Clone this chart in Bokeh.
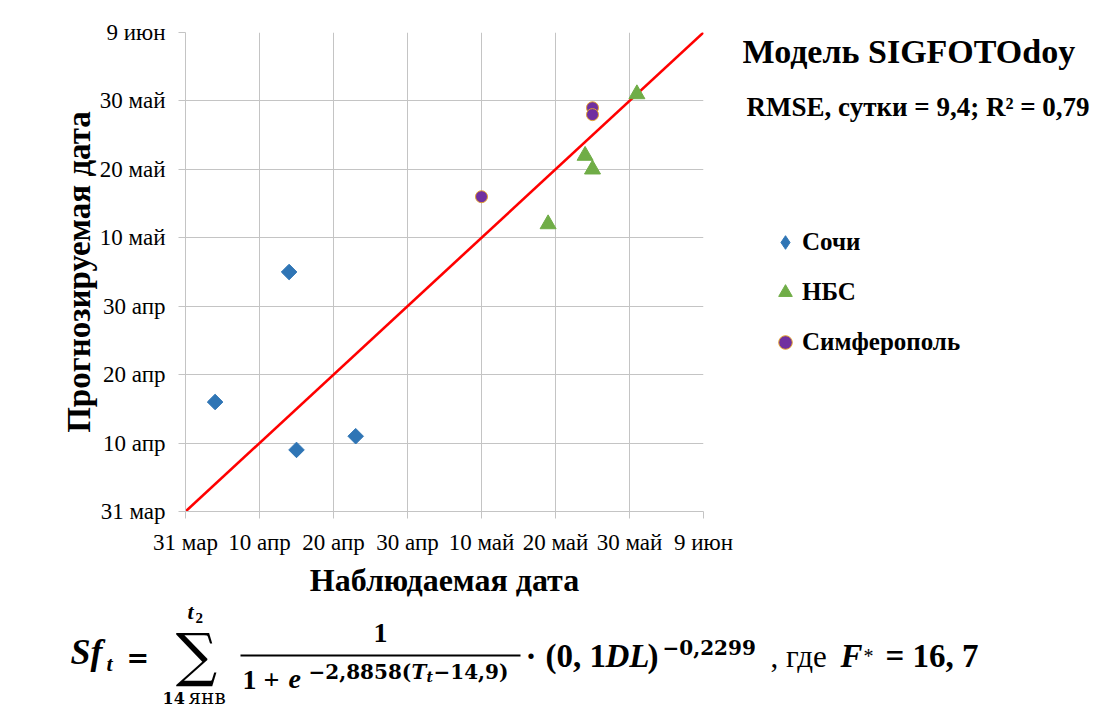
from bokeh.plotting import figure
from bokeh.layouts import column, row
from bokeh.models import FixedTicker, Label, Legend, LegendItem, BoxAnnotation
from bokeh.embed import file_html
from bokeh.resources import INLINE

# ---------------- data (days counted from 31 March) ----------------
tick_days = [0, 10, 20, 30, 40, 50, 60, 70]
tick_labels = ["31 мар", "10 апр", "20 апр", "30 апр", "10 май", "20 май", "30 май", "9 июн"]

sochi_obs = [4, 14, 15, 23]
sochi_pred = [16, 35, 9, 11]

nbs_obs = [49, 54, 55, 61]
nbs_pred = [42, 52, 50, 61]

simf_obs = [40, 55, 55]
simf_pred = [46, 59, 58]

line_x = [0, 70]
line_y = [0, 70]

series_names = ["Сочи", "НБС", "Симферополь"]
title_text = "Модель SIGFOTOdoy"
stats_text = "RMSE, сутки = 9,4; R² = 0,79"

# ---------------- layout (page pixel coordinates) ----------------
TOTAL_W, TOTAL_H = 1091, 712
W1, H1 = 742, 600                   # main chart figure
FL, FT, FR, FB = 185, 32, 703, 519  # chart frame edges
RIGHT_FB = 513                      # frame bottom of the right text panel
BASE_SHIFT = 0.3                    # baseline correction, in em

SERIF = "Liberation Serif"
DSERIF = "DejaVu Serif"
BLUE, GREEN, PURPLE, GOLD = "#2F75B5", "#70AD47", "#7030A0", "#E3A22D"
GRID = "#c4c4c4"

p = figure(width=W1, height=H1, output_backend="svg", toolbar_location=None,
           x_range=(tick_days[0], tick_days[-1]), y_range=(tick_days[0], tick_days[-1]),
           min_border_left=FL, min_border_right=W1 - FR,
           min_border_top=FT, min_border_bottom=H1 - FB)
p.outline_line_color = None
p.background_fill_color = "white"
p.border_fill_color = "white"

for ax in (p.xaxis[0], p.yaxis[0]):
    ax.ticker = FixedTicker(ticks=tick_days)
    ax.major_label_overrides = {d: l for d, l in zip(tick_days, tick_labels)}
    ax.major_label_text_font = SERIF
    ax.major_label_text_font_size = "23px"
    ax.major_label_text_color = "black"
    ax.axis_line_color = GRID
    ax.major_tick_line_color = GRID
    ax.major_tick_out = 7
    ax.major_tick_in = 0
    ax.minor_tick_line_color = None
    ax.axis_label_text_font = SERIF
    ax.axis_label_text_font_style = "bold"
    ax.axis_label_text_color = "black"

p.xaxis.major_label_standoff = 11
p.yaxis.major_label_standoff = 13
p.xaxis.axis_label = "Наблюдаемая дата"
p.xaxis.axis_label_text_font_size = "32px"
p.xaxis.axis_label_standoff = 4
p.yaxis.axis_label = "Прогнозируемая дата"
p.yaxis.axis_label_text_font_size = "33px"
p.yaxis.axis_label_standoff = 0

p.grid.grid_line_color = GRID
p.grid.grid_line_width = 1

p.line(line_x, line_y, line_color="#FF0000", line_width=2.6)

p.scatter(sochi_obs, sochi_pred, marker="square", size=11, angle=0.785398,
          fill_color=BLUE, line_color=BLUE)
p.scatter(nbs_obs, nbs_pred, marker="triangle", size=16,
          fill_color=GREEN, line_color=GREEN)
p.scatter(simf_obs, simf_pred, marker="circle", size=12,
          fill_color=PURPLE, line_color=GOLD, line_width=1)


def text_fig(x0, x1, y0, y1, top=0, bottom=0):
    f = figure(width=x1 - x0, height=y1 - y0, output_backend="svg", toolbar_location=None,
               x_range=(x0, x1), y_range=(y1 - bottom, y0 + top),
               x_axis_location=None, y_axis_location=None,
               min_border_left=0, min_border_right=0,
               min_border_top=top, min_border_bottom=bottom)
    f.grid.visible = False
    f.outline_line_color = None
    f.background_fill_color = "white"
    f.border_fill_color = "white"
    return f


def txt(f, s, px, py, size, style="bold", align="left", baseline="alphabetic", font=SERIF):
    if baseline == "alphabetic":
        py = py - BASE_SHIFT * size
    f.add_layout(Label(x=px, y=py, text=s, text_font=font, text_font_size=f"{size}px",
                       text_font_style=style, text_align=align, text_baseline=baseline,
                       text_color="black"))


def stxt(f, s, px, py, size, style="bold", font=SERIF):
    # screen units, measured from the panel frame's bottom-left corner
    py = py - BASE_SHIFT * size
    f.add_layout(Label(x=px - W1, y=RIGHT_FB - py, x_units="screen", y_units="screen",
                       text=s, text_font=font, text_font_size=f"{size}px",
                       text_font_style=style, text_align="left", text_baseline="alphabetic",
                       text_color="black"))


# ---------------- right panel: title, stats, legend ----------------
pr = text_fig(W1, TOTAL_W, 0, H1, top=FT, bottom=H1 - FB)
stxt(pr, title_text, 742, 63, 34)
stxt(pr, stats_text, 746, 117, 27)

# legend keys: the series are re-plotted here; their points fall outside this
# panel's ranges, so only the legend keys are visible
lr1 = pr.scatter(sochi_obs, sochi_pred, marker="diamond", size=14,
                 fill_color=BLUE, line_color=BLUE)
lr2 = pr.scatter(nbs_obs, nbs_pred, marker="triangle", size=14,
                 fill_color=GREEN, line_color=GREEN)
lr3 = pr.scatter(simf_obs, simf_pred, marker="circle", size=12,
                 fill_color=PURPLE, line_color=GOLD)
legend = Legend(items=[LegendItem(label=series_names[0], renderers=[lr1]),
                       LegendItem(label=series_names[1], renderers=[lr2]),
                       LegendItem(label=series_names[2], renderers=[lr3])],
                location=(768 - W1, RIGHT_FB - 361),
                glyph_width=34, glyph_height=34, label_height=34, spacing=16,
                label_standoff=0, padding=0, margin=0,
                border_line_color=None, background_fill_alpha=0,
                label_text_font=SERIF, label_text_font_size="25px",
                label_text_font_style="bold", label_text_color="black")
pr.add_layout(legend)

# ---------------- bottom panel: formula ----------------
pb = text_fig(0, TOTAL_W, H1, TOTAL_H)
B = 665
txt(pb, "Sf", 70, 662, 36, "bold italic")
txt(pb, "t", 106, 670, 22, "bold italic")
txt(pb, "=", 126, B, 27, "bold", font=DSERIF)
txt(pb, "∑", 196, 654, 58, "normal", align="center", baseline="middle", font=DSERIF)
txt(pb, "t", 187, 618, 22, "bold italic")
txt(pb, "2", 195, 622, 15, "bold")
txt(pb, "14", 162, 702, 16, "bold", font=DSERIF)
txt(pb, "янв", 188, 702, 20, "normal", font=DSERIF)
txt(pb, "1", 380, 641, 28, "bold", align="center")
txt(pb, "1 + ", 242, 687, 28, "bold")
txt(pb, "e", 288, 687, 28, "bold italic")
txt(pb, "−2,8858(", 308, 677, 20, "bold", font=DSERIF)
txt(pb, "T", 411, 677, 20, "bold italic", font=DSERIF)
txt(pb, "t", 426, 681, 14, "bold italic", font=DSERIF)
txt(pb, "−14,9)", 433, 677, 20, "bold", font=DSERIF)
txt(pb, "·", 525, B, 33, "bold")
txt(pb, "(0, 1", 545, B, 33, "bold")
txt(pb, "DL", 605, B, 33, "bold italic")
txt(pb, ")", 647, B, 33, "bold")
txt(pb, "−0,2299", 662, 653, 20, "bold", font=DSERIF)
txt(pb, ", где", 770, B, 31, "normal")
txt(pb, "F", 840, B, 33, "bold italic")
txt(pb, "*", 863, 661, 20, "normal")
txt(pb, "= 16, 7", 885, B, 33, "bold")
pb.add_layout(BoxAnnotation(left=240, right=520, top=654, bottom=656,
                            fill_color="black", fill_alpha=1, line_color=None))

layout = column(row(p, pr), pb)
open("out.html", "w").write(file_html(layout, INLINE))
